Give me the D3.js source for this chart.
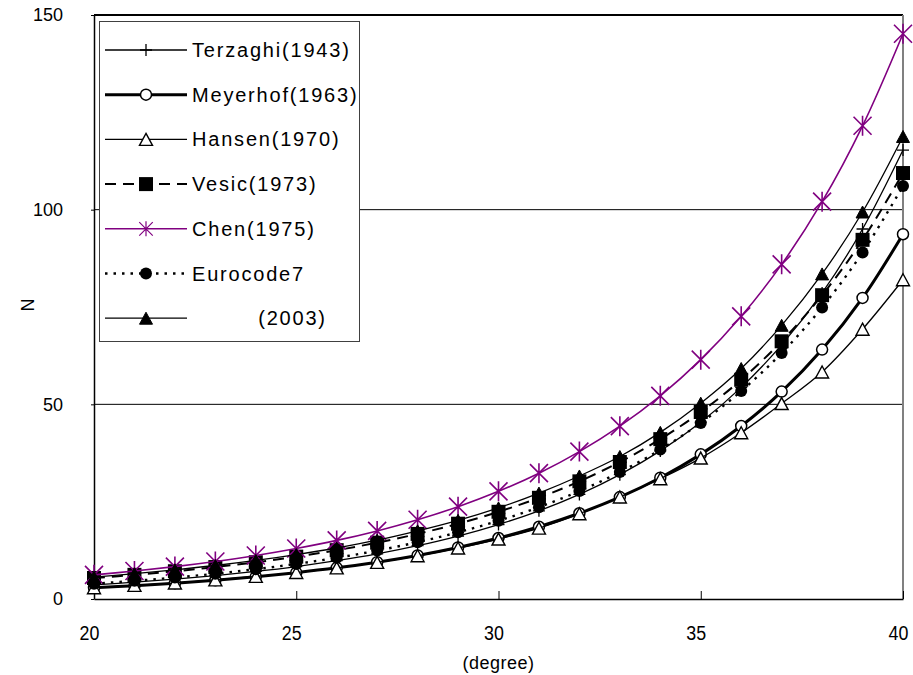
<!DOCTYPE html>
<html>
<head>
<meta charset="utf-8">
<script src="https://cdn.jsdelivr.net/npm/d3@7"></script>
<style>
  body { margin: 0; background: #fff; }
  svg text { font-family: Arial, "Liberation Sans", sans-serif; fill: #000; }
</style>
</head>
<body>
<div id="chart"></div>
<script>
// friction angle (degree)
const degrees = [20, 21, 22, 23, 24, 25, 26, 27, 28, 29, 30, 31, 32, 33, 34, 35, 36, 37, 38, 39, 40];

// N values
const terzaghi = [3.64, 4.31, 5.09, 6.00, 7.08, 8.34, 9.84, 11.60, 13.70, 16.18, 19.13, 22.65, 26.87, 31.94, 38.04, 45.41, 54.36, 65.27, 78.61, 95.03, 115.31];
const meyerhof = [2.87, 3.42, 4.07, 4.82, 5.72, 6.77, 8.00, 9.46, 11.19, 13.24, 15.67, 18.56, 22.02, 26.17, 31.15, 37.15, 44.43, 53.27, 64.07, 77.33, 93.69];
const hansen = [2.9, 3.5, 4.1, 4.9, 5.8, 6.8, 8.0, 9.4, 11.1, 13.1, 15.4, 18.2, 21.9, 26.2, 30.9, 36.2, 42.7, 50.2, 58.3, 69.3, 82.0];
const vesic = [5.39, 6.20, 7.13, 8.20, 9.44, 10.88, 12.54, 14.47, 16.72, 19.34, 22.40, 25.99, 30.22, 35.19, 41.06, 48.03, 56.31, 66.19, 78.03, 92.25, 109.41];
const chen = [6.20, 7.18, 8.32, 9.64, 11.17, 12.97, 15.05, 17.49, 20.35, 23.71, 27.66, 32.32, 37.86, 44.40, 52.18, 61.47, 72.60, 85.95, 102.06, 121.54, 145.19];
const eurocode7 = [3.93, 4.66, 5.51, 6.50, 7.66, 9.01, 10.58, 12.43, 14.59, 17.12, 20.09, 23.59, 27.72, 32.59, 38.37, 45.23, 53.40, 63.18, 74.90, 89.01, 106.06];
const series2003 = [5.6, 6.5, 7.5, 8.6, 9.9, 11.4, 13.1, 15.1, 17.5, 20.2, 23.4, 27.2, 31.6, 36.6, 42.8, 50.3, 59.2, 70.3, 83.5, 99.4, 118.8];

const seriesNames = ["Terzaghi(1943)", "Meyerhof(1963)", "Hansen(1970)", "Vesic(1973)", "Chen(1975)", "Eurocode7", "         (2003)"];
const xTicks = [20, 25, 30, 35, 40];
const yTicks = [0, 50, 100, 150];

const w = 913, h = 675;
const pLeft = 94, pRight = 903, pTop = 15, pBottom = 599;

const svg = d3.select("#chart").append("svg")
    .attr("width", w)
    .attr("height", h);

const xScale = d3.scaleLinear().domain([20, 40]).range([pLeft, pRight]);
const yScale = d3.scaleLinear().domain([0, 150]).range([pBottom, pTop]);

// marker shapes
function markerPath(type) {
    switch (type) {
        case "plus": return "M-6,0H6M0,-6V6";
        case "circle": return d3.symbol(d3.symbolCircle, Math.PI * 5.5 * 5.5)();
        case "dot": return d3.symbol(d3.symbolCircle, Math.PI * 6 * 6)();
        case "square": return "M-7,-7H7V7H-7Z";
        case "triangle": return "M0,-6L6.5,6H-6.5Z";
        case "star": return "M-9,-9L9,9M-9,9L9,-9M0,-10V10";
    }
}

const seriesDefs = [
    { values: terzaghi, color: "#000", width: 1.3, dash: null, marker: "plus", mfill: "none", mwidth: 1.3 },
    { values: meyerhof, color: "#000", width: 3, dash: null, marker: "circle", mfill: "#fff", mwidth: 1.5 },
    { values: hansen, color: "#000", width: 1.3, dash: null, marker: "triangle", mfill: "#fff", mwidth: 1.4 },
    { values: vesic, color: "#000", width: 2, dash: "11,7", marker: "square", mfill: "#000", mwidth: 0 },
    { values: chen, color: "#800080", width: 1.6, dash: null, marker: "star", mfill: "none", mwidth: 1.6 },
    { values: eurocode7, color: "#000", width: 2.4, dash: "2.5,6", marker: "dot", mfill: "#000", mwidth: 0 },
    { values: series2003, color: "#000", width: 1.3, dash: null, marker: "triangle", mfill: "#000", mwidth: 1 }
];

// gridlines
svg.append("g")
    .selectAll("line")
    .data([50, 100])
    .enter()
    .append("line")
    .attr("x1", pLeft).attr("x2", pRight)
    .attr("y1", d => yScale(d)).attr("y2", d => yScale(d))
    .attr("stroke", "#000")
    .attr("stroke-width", 1);

// plot border (top and right)
svg.append("line")
    .attr("x1", pLeft).attr("x2", pRight).attr("y1", pTop).attr("y2", pTop)
    .attr("stroke", "#000").attr("stroke-width", 2);
svg.append("line")
    .attr("x1", pRight).attr("x2", pRight).attr("y1", pTop).attr("y2", pBottom)
    .attr("stroke", "#808080").attr("stroke-width", 2);

// axes
const xAxis = d3.axisBottom(xScale).tickValues(xTicks).tickSizeInner(-8).tickSizeOuter(0).tickPadding(26);
const yAxis = d3.axisLeft(yScale).tickValues(yTicks).tickSizeInner(3).tickSizeOuter(0).tickPadding(28);

const gx = svg.append("g")
    .attr("transform", "translate(0," + pBottom + ")")
    .call(xAxis);
const gy = svg.append("g")
    .attr("transform", "translate(" + pLeft + ",0)")
    .call(yAxis);

[gx, gy].forEach(g => {
    g.select(".domain").attr("stroke", "#000").attr("stroke-width", 1.5);
    g.selectAll(".tick line").attr("stroke", "#000").attr("stroke-width", 1);
    g.selectAll(".tick text").style("font-size", "18px").attr("fill", "#000")
        .style("font-family", "Arial, 'Liberation Sans', sans-serif");
});
// x labels look taller and narrower
gx.selectAll(".tick text")
    .style("font-size", "21px")
    .attr("transform", "translate(-5,0) scale(0.85,1)");

// axis titles
svg.append("text")
    .attr("x", (pLeft + pRight) / 2)
    .attr("y", 669)
    .style("text-anchor", "middle")
    .style("font-size", "18px")
    .style("letter-spacing", "0.5px")
    .text("(degree)");

svg.append("text")
    .attr("transform", "translate(34,305) rotate(-90)")
    .style("text-anchor", "middle")
    .style("font-size", "18px")
    .text("N");

// series lines + markers
const line = d3.line()
    .x((d, i) => xScale(degrees[i]))
    .y(d => yScale(d))
    .curve(d3.curveCatmullRom.alpha(0.5));

seriesDefs.forEach(s => {
    const g = svg.append("g");
    g.append("path")
        .attr("d", line(s.values))
        .attr("fill", "none")
        .attr("stroke", s.color)
        .attr("stroke-width", s.width)
        .attr("stroke-dasharray", s.dash);
    g.selectAll("path.mk")
        .data(s.values)
        .enter()
        .append("path")
        .attr("class", "mk")
        .attr("d", markerPath(s.marker))
        .attr("transform", (d, i) => "translate(" + xScale(degrees[i]) + "," + yScale(d) + ")")
        .attr("fill", s.mfill)
        .attr("stroke", s.mwidth > 0 ? s.color : "none")
        .attr("stroke-width", s.mwidth);
});

// legend
const legend = svg.append("g");
legend.append("rect")
    .attr("x", 99.5).attr("y", 21.5)
    .attr("width", 260).attr("height", 320)
    .attr("fill", "#fff")
    .attr("stroke", "#404040")
    .attr("stroke-width", 1);

seriesDefs.forEach((s, i) => {
    const yy = 50 + i * 44.7;
    legend.append("line")
        .attr("x1", 105).attr("x2", 187)
        .attr("y1", yy).attr("y2", yy)
        .attr("stroke", s.color)
        .attr("stroke-width", s.width)
        .attr("stroke-dasharray", s.dash);
    legend.append("path")
        .attr("d", markerPath(s.marker))
        .attr("transform", "translate(146," + yy + ")" + (s.marker === "star" ? " scale(0.75)" : ""))
        .attr("fill", s.mfill)
        .attr("stroke", s.mwidth > 0 ? s.color : "none")
        .attr("stroke-width", s.mwidth);
    legend.append("text")
        .attr("x", 192)
        .attr("y", yy + 7)
        .style("font-size", "20px")
        .style("letter-spacing", "1.8px")
        .style("white-space", "pre")
        .text(seriesNames[i]);
});
</script>
</body>
</html>
